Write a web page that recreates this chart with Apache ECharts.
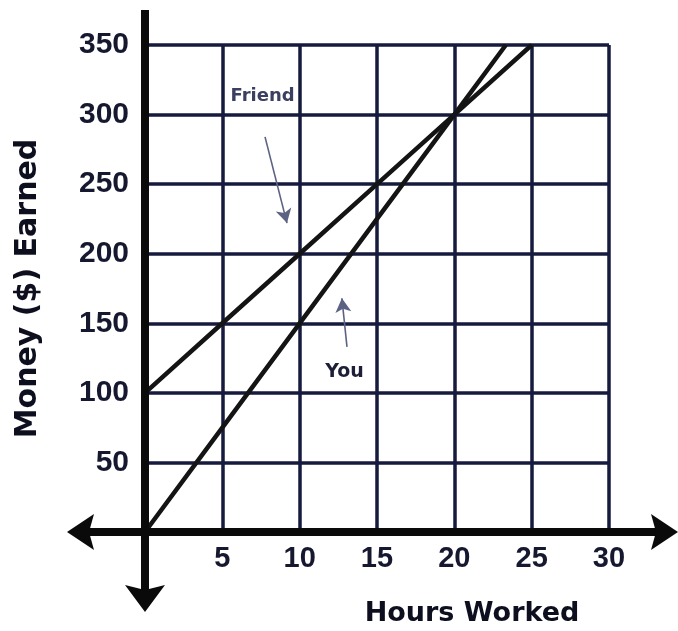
<!DOCTYPE html>
<html><head><meta charset="utf-8">
<script src="https://cdn.jsdelivr.net/npm/echarts@6/dist/echarts.min.js"></script>
<style>html,body{margin:0;padding:0;background:#fff}#c{width:678px;height:631px}</style>
</head><body><div id="c"></div>
<script>
// ---- data ----
const friendHours = [0, 5, 10, 15, 20, 25];
const friendMoney = [100, 150, 200, 250, 300, 350];
const youHours = [0, 5, 10, 15, 20, 23.33];
const youMoney = [0, 75, 150, 225, 300, 350];
const xTickLabels = ['5', '10', '15', '20', '25', '30'];
const yTickLabels = ['50', '100', '150', '200', '250', '300', '350'];
const xName = 'Hours Worked';
const yName = 'Money ($) Earned';
// hand-written notes (data coordinates)
const friendNoteText = 'Friend';
const friendNoteAt = [7.6, 313];
const friendArrow = [[7.76, 284], [9.18, 222]];
const youNoteText = 'You';
const youNoteAt = [12.9, 115];
const youArrow = [[13.06, 133], [12.73, 168]];

const ink = '#15182f';
const chart = echarts.init(document.getElementById('c'), null, {renderer: 'canvas'});

function pairs(xs, ys) { return xs.map((x, i) => [x, ys[i]]); }

const option = {
  animation: false,
  backgroundColor: '#ffffff',
  grid: {left: 145, top: 45, right: 69, bottom: 99, containLabel: false, outerBoundsMode: 'none'},
  xAxis: {
    type: 'value', min: 0, max: 30, interval: 5,
    axisLine: {show: false}, axisTick: {show: false},
    splitLine: {show: true, lineStyle: {color: '#161a3c', width: 3.5}},
    axisLabel: {
      margin: 12, color: ink, fontFamily: 'Liberation Sans', fontWeight: 'bold', fontSize: 29,
      formatter: v => xTickLabels.includes(String(v)) ? String(v) : ''
    },
    name: xName, nameLocation: 'middle', nameGap: 68,
    nameTextStyle: {color: '#0d0f1f', fontFamily: 'DejaVu Sans', fontWeight: 'bold', fontSize: 27,
      padding: [0, 0, 0, 190]},
  },
  yAxis: {
    type: 'value', min: 0, max: 350, interval: 50,
    axisLine: {show: false}, axisTick: {show: false},
    splitLine: {show: true, lineStyle: {color: '#161a3c', width: 3.5}},
    axisLabel: {
      margin: 16, color: ink, fontFamily: 'Liberation Sans', fontWeight: 'bold', fontSize: 30,
      formatter: v => yTickLabels.includes(String(v)) ? String(v) : ''
    },
    name: yName, nameLocation: 'middle', nameGap: 102, nameRotate: 90,
    nameTextStyle: {color: '#0d0f1f', fontFamily: 'DejaVu Sans', fontWeight: 'bold', fontSize: 30},
  },
  series: [
    {
      name: 'Friend', type: 'line', data: pairs(friendHours, friendMoney),
      symbol: 'none', z: 5,
      lineStyle: {color: '#141414', width: 4.5},
      markLine: {
        silent: true, symbol: ['none', 'arrow'], symbolSize: [12, 14],
        label: {show: false},
        lineStyle: {color: '#5c6282', width: 1.6, type: 'solid'},
        data: [[{coord: friendArrow[0]}, {coord: friendArrow[1]}]]
      },
      markPoint: {
        silent: true, symbol: 'circle', symbolSize: 1, itemStyle: {color: 'rgba(0,0,0,0)'},
        label: {show: true, position: 'inside', formatter: friendNoteText, color: '#3b4060',
          fontFamily: 'DejaVu Sans', fontWeight: 'bold', fontSize: 18},
        data: [{coord: friendNoteAt}]
      }
    },
    {
      name: 'You', type: 'line', data: pairs(youHours, youMoney),
      symbol: 'none', z: 5,
      lineStyle: {color: '#141414', width: 4.5},
      markLine: {
        silent: true, symbol: ['none', 'arrow'], symbolSize: [12, 14],
        label: {show: false},
        lineStyle: {color: '#5c6282', width: 1.6, type: 'solid'},
        data: [[{coord: youArrow[0]}, {coord: youArrow[1]}]]
      },
      markPoint: {
        silent: true, symbol: 'circle', symbolSize: 1, itemStyle: {color: 'rgba(0,0,0,0)'},
        label: {show: true, position: 'inside', formatter: youNoteText, color: '#1c1f36',
          fontFamily: 'DejaVu Sans', fontWeight: 'bold', fontSize: 19},
        data: [{coord: youNoteAt}]
      }
    }
  ]
};
chart.setOption(option);

// axes with arrows, anchored to the origin of the grid
const o = chart.convertToPixel({gridIndex: 0}, [0, 0]);
const W = chart.getWidth();
const axisW = 8;
const axisCol = '#0a0a0a';
const leftTip = o[0] - 78, rightTip = W, topEnd = 10, downTip = o[1] + 80;
chart.setOption({
  graphic: [
    {type: 'line', z: 50, shape: {x1: leftTip + 20, y1: o[1], x2: rightTip - 20, y2: o[1]},
     style: {stroke: axisCol, lineWidth: axisW}},
    {type: 'line', z: 50, shape: {x1: o[0], y1: topEnd, x2: o[0], y2: downTip - 20},
     style: {stroke: axisCol, lineWidth: axisW}},
    {type: 'polygon', z: 51, shape: {points: [[leftTip, o[1]], [leftTip + 27, o[1] - 18], [leftTip + 22, o[1]], [leftTip + 27, o[1] + 18]]},
     style: {fill: axisCol}},
    {type: 'polygon', z: 51, shape: {points: [[rightTip, o[1]], [rightTip - 27, o[1] - 18], [rightTip - 22, o[1]], [rightTip - 27, o[1] + 18]]},
     style: {fill: axisCol}},
    {type: 'polygon', z: 51, shape: {points: [[o[0], downTip], [o[0] - 20, downTip - 27], [o[0], downTip - 22], [o[0] + 20, downTip - 27]]},
     style: {fill: axisCol}}
  ]
});
</script>
</body></html>
